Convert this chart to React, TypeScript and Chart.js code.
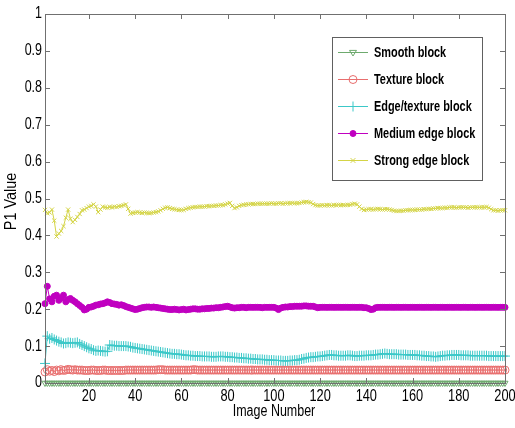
import React, { useEffect, useRef } from "react";
import { Chart, registerables } from "chart.js";

Chart.register(...registerables);

const SERIES_NAMES = ["Smooth block", "Texture block", "Edge/texture block", "Medium edge block", "Strong edge block"];

const X_TICKS = [20, 40, 60, 80, 100, 120, 140, 160, 180, 200];
const Y_TICKS = [0, 0.1, 0.2, 0.3, 0.4, 0.5, 0.6, 0.7, 0.8, 0.9, 1];
const X_TITLE = "Image Number";
const Y_TITLE = "P1 Value";

const smooth = [
  0,0,0,0,0,0,0,0,0,0, 0,0,0,0,0,0,0,0,0,0, 0,0,0,0,0,0,0,0,0,0, 0,0,0,0,0,0,0,0,0,0,
  0,0,0,0,0,0,0,0,0,0, 0,0,0,0,0,0,0,0,0,0, 0,0,0,0,0,0,0,0,0,0, 0,0,0,0,0,0,0,0,0,0,
  0,0,0,0,0,0,0,0,0,0, 0,0,0,0,0,0,0,0,0,0, 0,0,0,0,0,0,0,0,0,0, 0,0,0,0,0,0,0,0,0,0,
  0,0,0,0,0,0,0,0,0,0, 0,0,0,0,0,0,0,0,0,0, 0,0,0,0,0,0,0,0,0,0, 0,0,0,0,0,0,0,0,0,0,
  0,0,0,0,0,0,0,0,0,0, 0,0,0,0,0,0,0,0,0,0, 0,0,0,0,0,0,0,0,0,0, 0,0,0,0,0,0,0,0,0,0,
];

const texture = [
  .030,.036,.032,.034,.031,.035,.033,.036,.034,.035,
  .037,.036,.035,.036,.035,.035,.035,.034,.034,.034,
  .035,.035,.034,.034,.034,.035,.035,.034,.034,.034,
  .034,.034,.034,.034,.034,.035,.035,.035,.035,.035,
  .035,.035,.035,.035,.035,.035,.035,.035,.035,.036,
  .036,.036,.035,.035,.035,.035,.035,.035,.035,.035,
  .035,.035,.035,.035,.036,.036,.035,.035,.035,.035,
  .035,.035,.035,.035,.035,.035,.035,.035,.035,.035,
  .035,.035,.035,.035,.035,.035,.035,.035,.035,.035,
  .035,.035,.035,.035,.035,.035,.035,.035,.035,.035,
  .035,.035,.035,.035,.035,.035,.035,.035,.035,.035,
  .035,.035,.035,.035,.035,.035,.035,.035,.035,.035,
  .035,.035,.035,.035,.035,.035,.035,.035,.035,.035,
  .035,.035,.035,.035,.035,.035,.035,.035,.035,.035,
  .035,.035,.035,.035,.035,.035,.035,.035,.035,.035,
  .035,.035,.035,.035,.035,.035,.035,.035,.035,.035,
  .035,.035,.035,.035,.035,.035,.035,.035,.035,.035,
  .035,.035,.035,.035,.035,.035,.035,.035,.035,.035,
  .035,.035,.035,.035,.035,.035,.035,.035,.035,.035,
  .035,.035,.035,.035,.035,.035,.035,.035,.035,.035,
];

const edgeTexture = [
  .053,.127,.120,.122,.118,.115,.112,.110,.107,.108,
  .110,.109,.108,.109,.110,.106,.103,.100,.097,.094,
  .092,.089,.087,.088,.087,.086,.085,.086,.103,.102,
  .101,.101,.100,.100,.100,.100,.099,.098,.096,.095,
  .094,.093,.092,.091,.090,.089,.088,.087,.086,.085,
  .084,.083,.082,.081,.080,.079,.079,.078,.078,.077,
  .076,.075,.075,.074,.074,.073,.073,.073,.072,.072,
  .072,.072,.071,.071,.071,.072,.072,.072,.071,.071,
  .070,.070,.069,.069,.068,.068,.067,.067,.066,.066,
  .065,.065,.064,.064,.064,.063,.063,.062,.062,.062,
  .061,.061,.061,.060,.060,.060,.061,.061,.062,.062,
  .063,.065,.066,.068,.069,.070,.070,.071,.072,.072,
  .073,.074,.075,.076,.076,.075,.075,.074,.074,.074,
  .074,.075,.075,.074,.073,.073,.074,.074,.074,.075,
  .075,.075,.076,.077,.077,.078,.079,.080,.079,.078,
  .078,.078,.078,.077,.077,.077,.077,.076,.076,.076,
  .076,.075,.075,.074,.074,.073,.073,.072,.072,.071,
  .072,.073,.074,.074,.075,.075,.076,.076,.076,.076,
  .075,.075,.075,.075,.074,.074,.074,.074,.074,.074,
  .074,.074,.073,.073,.073,.073,.073,.073,.073,.073,
];

const mediumEdge = [
  .215,.262,.228,.220,.235,.238,.224,.230,.238,.220,
  .226,.229,.224,.220,.215,.210,.205,.198,.200,.205,
  .206,.208,.211,.212,.214,.215,.217,.220,.218,.215,
  .214,.213,.211,.212,.210,.207,.205,.203,.201,.199,
  .200,.202,.204,.205,.206,.206,.205,.206,.205,.204,
  .203,.202,.201,.200,.199,.199,.200,.199,.198,.199,
  .200,.198,.199,.200,.201,.201,.200,.200,.201,.201,
  .202,.202,.203,.203,.204,.204,.205,.206,.207,.208,
  .206,.204,.203,.204,.204,.205,.205,.204,.205,.205,
  .205,.205,.205,.205,.204,.205,.205,.205,.205,.205,
  .203,.199,.203,.205,.206,.206,.207,.207,.208,.208,
  .208,.208,.209,.209,.208,.208,.208,.206,.204,.205,
  .205,.205,.205,.205,.205,.205,.205,.205,.205,.205,
  .205,.205,.205,.205,.205,.205,.205,.205,.204,.204,
  .202,.199,.200,.204,.205,.205,.205,.205,.205,.205,
  .205,.205,.205,.205,.205,.205,.205,.205,.205,.205,
  .205,.205,.205,.205,.205,.205,.205,.205,.205,.205,
  .205,.205,.205,.205,.205,.205,.205,.205,.205,.205,
  .205,.205,.205,.205,.205,.205,.205,.205,.205,.205,
  .205,.205,.205,.205,.205,.205,.205,.205,.205,.205,
];

const strongEdge = [
  .469,.460,.462,.470,.440,.397,.405,.412,.425,.448,
  .470,.445,.436,.442,.450,.458,.468,.470,.474,.478,
  .480,.484,.478,.463,.470,.478,.476,.475,.477,.476,
  .478,.477,.479,.480,.482,.484,.472,.459,.461,.462,
  .463,.462,.461,.462,.461,.460,.461,.462,.463,.465,
  .468,.472,.475,.476,.474,.472,.471,.470,.469,.469,
  .469,.472,.474,.475,.476,.477,.477,.478,.478,.478,
  .479,.479,.480,.480,.481,.481,.482,.482,.484,.486,
  .488,.480,.474,.476,.480,.482,.483,.484,.484,.485,
  .485,.485,.486,.486,.486,.486,.486,.486,.487,.486,
  .486,.487,.487,.486,.487,.487,.487,.488,.487,.487,
  .488,.489,.490,.491,.490,.489,.485,.482,.481,.481,
  .482,.481,.482,.482,.481,.482,.482,.483,.482,.482,
  .482,.483,.483,.485,.486,.484,.478,.472,.469,.470,
  .471,.471,.470,.471,.472,.471,.470,.471,.471,.470,
  .469,.467,.466,.466,.467,.467,.468,.468,.469,.469,
  .469,.470,.470,.470,.471,.471,.472,.472,.473,.473,
  .474,.474,.474,.475,.475,.476,.476,.476,.475,.476,
  .476,.476,.476,.475,.476,.476,.476,.476,.476,.476,
  .476,.477,.475,.471,.468,.468,.467,.468,.468,.468,
];

const SERIES_VALUES = [smooth, texture, edgeTexture, mediumEdge, strongEdge];
const COLORS = ["rgb(110,170,110)", "rgb(232,110,110)", "rgb(60,200,200)", "rgb(192,0,192)", "rgb(212,212,70)"];
const POINT_STYLES = ["triangle", "circle", "cross", "circle", "crossRot"];
const POINT_RADII = [3.5, 4, 5, 3, 3];
const POINT_FILLED = [false, false, false, true, false];

const FONT = "'Liberation Sans', Arial, sans-serif";
const AXIS_COLOR = "#707070";

function drawMarker(ctx: CanvasRenderingContext2D, i: number, x: number, y: number) {
  const r = POINT_RADII[i];
  const c = COLORS[i];
  ctx.save();
  ctx.strokeStyle = c;
  ctx.fillStyle = c;
  ctx.lineWidth = 1;
  ctx.beginPath();
  const st = POINT_STYLES[i];
  if (st === "triangle") {
    ctx.moveTo(x - r, y - r * 0.6);
    ctx.lineTo(x + r, y - r * 0.6);
    ctx.lineTo(x, y + r);
    ctx.closePath();
    ctx.stroke();
  } else if (st === "circle") {
    ctx.arc(x, y, r, 0, Math.PI * 2);
    if (POINT_FILLED[i]) ctx.fill();
    ctx.stroke();
  } else if (st === "cross") {
    ctx.moveTo(x - r, y); ctx.lineTo(x + r, y);
    ctx.moveTo(x, y - r); ctx.lineTo(x, y + r);
    ctx.stroke();
  } else {
    const d = r * 0.8;
    ctx.moveTo(x - d, y - d); ctx.lineTo(x + d, y + d);
    ctx.moveTo(x + d, y - d); ctx.lineTo(x - d, y + d);
    ctx.stroke();
  }
  ctx.restore();
}

function squeezedText(ctx: CanvasRenderingContext2D, text: string, x: number, y: number, align: "left" | "center" | "right", sq: number) {
  ctx.save();
  ctx.translate(x, y);
  ctx.scale(sq, 1);
  ctx.textAlign = align;
  ctx.fillText(text, 0, 0);
  ctx.restore();
}

const framePlugin = {
  id: "matlabFrame",
  afterDatasetsDraw(chart: any) {
    const { ctx, chartArea } = chart;
    const { left, right, top, bottom } = chartArea;
    const xs = chart.scales.x;
    const ys = chart.scales.y;
    ctx.save();
    ctx.strokeStyle = AXIS_COLOR;
    ctx.lineWidth = 1;
    ctx.strokeRect(Math.round(left) + 0.5, Math.round(top) + 0.5, Math.round(right - left), Math.round(bottom - top));
    const tl = 5;
    ctx.beginPath();
    for (const v of X_TICKS) {
      const px = Math.round(xs.getPixelForValue(v)) + 0.5;
      ctx.moveTo(px, bottom); ctx.lineTo(px, bottom - tl);
      ctx.moveTo(px, top); ctx.lineTo(px, top + tl);
    }
    for (const v of Y_TICKS) {
      const py = Math.round(ys.getPixelForValue(v)) + 0.5;
      ctx.moveTo(left, py); ctx.lineTo(left + tl, py);
      ctx.moveTo(right, py); ctx.lineTo(right - tl, py);
    }
    ctx.stroke();

    // tick labels
    ctx.fillStyle = "#000";
    ctx.font = `16px ${FONT}`;
    ctx.textBaseline = "middle";
    for (const v of X_TICKS) {
      squeezedText(ctx, String(v), xs.getPixelForValue(v), bottom + 14, "center", 0.8);
    }
    for (const v of Y_TICKS) {
      squeezedText(ctx, String(v), left - 3, ys.getPixelForValue(v), "right", 0.78);
    }
    // titles
    ctx.font = `16px ${FONT}`;
    squeezedText(ctx, X_TITLE, (left + right) / 2 - 1, 412, "center", 0.78);
    ctx.save();
    ctx.translate(12, (top + bottom) / 2 + 3);
    ctx.rotate(-Math.PI / 2);
    ctx.scale(0.9, 1);
    ctx.textAlign = "center";
    ctx.fillText(Y_TITLE, 0, 0);
    ctx.restore();

    // legend
    const bx = 332, by = 37, bw = 150, bh = 143;
    ctx.fillStyle = "#ffffff";
    ctx.fillRect(bx, by, bw, bh);
    ctx.strokeStyle = "#606060";
    ctx.strokeRect(bx + 0.5, by + 0.5, bw, bh);
    ctx.font = `bold 14px ${FONT}`;
    ctx.textBaseline = "middle";
    SERIES_NAMES.forEach((name, i) => {
      const y = 52 + i * 27;
      ctx.strokeStyle = COLORS[i];
      ctx.beginPath();
      ctx.moveTo(338, y + 0.5); ctx.lineTo(368, y + 0.5);
      ctx.stroke();
      drawMarker(ctx, i, 353, y + 0.5);
      ctx.fillStyle = "#000000";
      squeezedText(ctx, name, 374, y + 1, "left", 0.78);
    });
    ctx.restore();
  },
};

export default function App() {
  const ref = useRef<HTMLCanvasElement | null>(null);
  useEffect(() => {
    if (!ref.current) return;
    const datasets = SERIES_NAMES.map((name, i) => ({
      label: name,
      data: SERIES_VALUES[i].map((v, j) => ({ x: j + 1, y: v })),
      borderColor: COLORS[i],
      backgroundColor: POINT_FILLED[i] ? COLORS[i] : "rgba(0,0,0,0)",
      borderWidth: 1,
      pointStyle: POINT_STYLES[i],
      pointRadius: POINT_RADII[i],
      pointRotation: i === 0 ? 180 : 0,
      pointBorderWidth: 1,
      pointBorderColor: COLORS[i],
      pointBackgroundColor: POINT_FILLED[i] ? COLORS[i] : "rgba(0,0,0,0)",
      tension: 0,
      clip: false,
      order: 5 - i,
    }));
    const chart = new Chart(ref.current, {
      type: "line",
      data: { datasets },
      options: {
        animation: false,
        responsive: false,
        maintainAspectRatio: false,
        layout: { padding: { top: 14, right: 10, left: 0, bottom: 0 } },
        plugins: { legend: { display: false }, tooltip: { enabled: false } },
        scales: {
          x: {
            type: "linear",
            min: 1,
            max: 200,
            afterBuildTicks: (s: any) => { s.ticks = X_TICKS.map((v) => ({ value: v })); },
            afterFit: (s: any) => { s.height = 45; },
            grid: { display: false, drawTicks: false },
            border: { display: false },
            ticks: { display: false },
          },
          y: {
            min: 0,
            max: 1,
            afterBuildTicks: (s: any) => { s.ticks = Y_TICKS.map((v) => ({ value: v })); },
            afterFit: (s: any) => { s.width = 45; },
            grid: { display: false, drawTicks: false },
            border: { display: false },
            ticks: { display: false },
          },
        },
      },
      plugins: [framePlugin],
    });
    return () => chart.destroy();
  }, []);
  return (
    <div style={{ position: "absolute", left: 0, top: 0, width: 515, height: 428, background: "#fff" }}>
      <canvas ref={ref} width={515} height={428} style={{ display: "block" }} />
    </div>
  );
}
